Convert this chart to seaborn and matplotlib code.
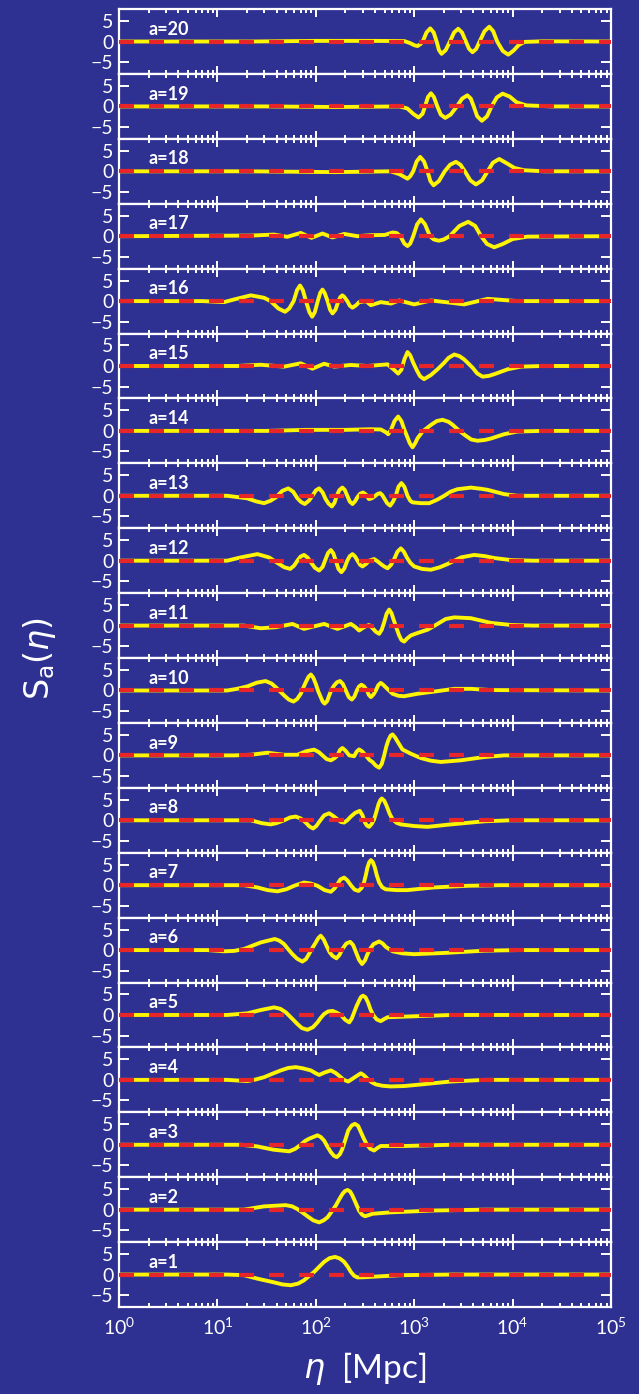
import matplotlib
matplotlib.use("Agg")
import matplotlib.pyplot as plt
import numpy as np
import pandas as pd
import seaborn as sns

# S_a(eta) curves: log10(eta) samples and values
LX_20 = [0, 1.34, 2.0, 2.6, 2.9, 2.96, 3.0, 3.034, 3.065, 3.09, 3.125, 3.163, 3.198, 3.228, 3.252, 3.278, 3.32, 3.363, 3.405, 3.447, 3.486, 3.525, 3.558, 3.593, 3.63, 3.665, 3.714, 3.763, 3.803, 3.843, 3.9, 3.956, 4.01, 4.06, 4.12, 4.3, 5]
S_20 = [0, 0, 0.15, 0.15, 0.1, -0.4, -0.9, -1.1, -0.6, 0.2, 2.2, 3.2, 2.2, 0, -2.1, -3.0, -2.1, 0, 2.2, 3.1, 2.2, 0, -1.8, -2.6, -1.8, 0, 2.5, 3.6, 2.5, 0, -2.3, -3.2, -2.2, -0.9, -0.1, 0.05, 0]

LX_19 = [0, 1.5, 2.2, 2.85, 2.93, 2.99, 3.044, 3.085, 3.11, 3.14, 3.17, 3.2, 3.235, 3.27, 3.315, 3.37, 3.434, 3.487, 3.54, 3.575, 3.605, 3.64, 3.688, 3.74, 3.786, 3.84, 3.898, 3.97, 4.04, 4.14, 4.4, 5]
S_19 = [0, 0, -0.15, 0, -0.5, -1.8, -2.7, -1.8, 0, 2.3, 3.2, 2.3, 0, -2.0, -2.8, -2.0, 0, 1.9, 2.7, 1.9, 0, -2.4, -3.5, -2.4, 0, 2.2, 3.1, 2.4, 1.0, 0.25, 0, 0]

LX_18 = [0, 1.3, 2.2, 2.76, 2.85, 2.932, 2.96, 2.99, 3.025, 3.061, 3.1, 3.135, 3.165, 3.197, 3.25, 3.31, 3.365, 3.424, 3.47, 3.515, 3.57, 3.627, 3.69, 3.746, 3.8, 3.864, 3.93, 4.02, 4.12, 4.32, 5]
S_18 = [0, 0, -0.2, 0, -0.7, -1.8, -1.2, 0, 2.4, 3.5, 2.4, 0, -2.4, -3.4, -2.4, 0, 1.6, 2.3, 1.6, 0, -2.2, -3.2, -2.2, 0, 2.1, 3.0, 2.1, 0.8, 0.25, 0, 0]

LX_17 = [0, 1.34, 1.576, 1.71, 1.847, 1.956, 2.068, 2.17, 2.288, 2.424, 2.56, 2.7, 2.78, 2.82, 2.86, 2.9, 2.932, 2.96, 2.99, 3.03, 3.068, 3.11, 3.16, 3.2, 3.25, 3.3, 3.36, 3.46, 3.549, 3.62, 3.68, 3.74, 3.813, 3.9, 4.0, 4.15, 5]
S_17 = [0, 0.15, 0.4, -0.15, 0.8, -0.4, 0.65, -0.3, 0.55, 0, 0.25, 0.3, 0.9, 0.8, 0, -1.8, -2.4, -1.8, 0, 2.9, 4.1, 2.9, 0, -0.8, -1.1, -0.8, 0, 2.5, 3.5, 2.5, 0, -1.9, -2.7, -1.9, -0.7, -0.1, 0]

LX_16 = [0, 0.85, 1.068, 1.17, 1.34, 1.475, 1.54, 1.62, 1.688, 1.73, 1.775, 1.81, 1.84, 1.868, 1.9, 1.935, 1.963, 1.99, 2.02, 2.045, 2.068, 2.09, 2.12, 2.145, 2.17, 2.2, 2.23, 2.25, 2.27, 2.29, 2.32, 2.345, 2.373, 2.41, 2.44, 2.51, 2.56, 2.66, 2.763, 2.847, 3.0, 3.17, 3.373, 3.508, 3.746, 3.915, 4.05, 5]
S_16 = [0, 0, -0.25, 0.4, 1.4, 0.8, 0, -1.8, -2.6, -1.8, 0, 2.7, 3.8, 2.7, 0, -2.7, -3.8, -2.7, 0, 2.0, 2.8, 2.0, 0, -2.1, -3.0, -2.1, 0, 1.0, 1.4, 1.0, 0, -1.1, -1.6, -1.0, -0.25, 0, -1.0, -0.25, -0.6, 0.15, -0.8, 0.15, -0.4, -0.8, 0.55, 0.25, 0, 0]

LX_15 = [0, 1.2, 1.44, 1.678, 1.847, 1.966, 2.085, 2.186, 2.356, 2.525, 2.729, 2.79, 2.837, 2.87, 2.9, 2.932, 2.96, 2.99, 3.03, 3.06, 3.1, 3.17, 3.237, 3.305, 3.35, 3.407, 3.46, 3.508, 3.593, 3.64, 3.695, 3.76, 3.813, 3.95, 4.085, 4.3, 5]
S_15 = [0, 0, 0.3, -0.15, 0.65, -0.65, 0.55, -0.15, 0.25, 0, 0.4, -0.8, -1.85, -0.9, 1.6, 3.4, 2.6, 0.8, -1.2, -2.5, -3.2, -2.2, -0.8, 0.8, 2.0, 2.8, 2.4, 1.6, -0.4, -1.8, -2.6, -2.4, -2.0, -0.8, -0.15, 0, 0]

LX_14 = [0, 1.5, 1.9, 2.3, 2.56, 2.66, 2.71, 2.736, 2.765, 2.8, 2.837, 2.87, 2.9, 2.932, 2.955, 2.983, 3.01, 3.034, 3.085, 3.17, 3.23, 3.288, 3.35, 3.39, 3.45, 3.508, 3.58, 3.644, 3.72, 3.78, 3.915, 4.05, 4.3, 5]
S_14 = [0, 0, 0.25, 0.25, 0.4, 0.35, -0.3, -0.8, 0.3, 2.4, 3.5, 2.4, 0.3, -1.6, -3.0, -4.0, -3.0, -1.8, -0.15, 1.45, 2.4, 2.7, 2.2, 1.5, 0.2, -0.9, -2.1, -2.4, -2.2, -1.85, -0.8, -0.15, 0, 0]

LX_13 = [0, 1.1, 1.3, 1.4, 1.475, 1.54, 1.593, 1.66, 1.72, 1.77, 1.813, 1.85, 1.888, 1.93, 1.966, 2.0, 2.034, 2.07, 2.10, 2.13, 2.163, 2.19, 2.213, 2.24, 2.27, 2.295, 2.32, 2.345, 2.373, 2.4, 2.424, 2.45, 2.48, 2.51, 2.54, 2.57, 2.60, 2.625, 2.654, 2.675, 2.695, 2.725, 2.756, 2.785, 2.813, 2.84, 2.87, 2.9, 2.932, 2.96, 2.983, 3.07, 3.153, 3.23, 3.305, 3.37, 3.44, 3.576, 3.68, 3.746, 3.915, 4.05, 5]
S_13 = [0, 0, -0.6, -1.4, -1.8, -1.2, -0.4, 1.2, 1.8, 1.0, -0.6, -1.5, -2.0, -1.2, 0, 1.3, 1.8, 0.8, -0.8, -1.9, -2.6, -1.7, 0, 1.4, 2.0, 1.4, 0, -1.4, -2.0, -1.3, -0.3, 0.5, 0.8, 0.3, -0.8, -0.6, -0.1, 0.4, 0.65, 0.2, -0.6, -1.8, -2.4, -1.4, 0, 2.2, 3.1, 2.2, 0, -1.2, -1.6, -1.8, -1.8, -1.0, 0, 1.0, 1.6, 2.0, 1.7, 1.45, 0.4, 0, 0]

LX_12 = [0, 1.1, 1.237, 1.407, 1.525, 1.627, 1.68, 1.74, 1.78, 1.813, 1.845, 1.88, 1.915, 1.95, 1.99, 2.034, 2.07, 2.10, 2.125, 2.153, 2.178, 2.203, 2.23, 2.26, 2.29, 2.32, 2.345, 2.373, 2.4, 2.424, 2.45, 2.475, 2.51, 2.542, 2.593, 2.63, 2.66, 2.695, 2.73, 2.765, 2.797, 2.83, 2.864, 2.895, 2.925, 2.96, 3.0, 3.08, 3.17, 3.26, 3.34, 3.475, 3.61, 3.72, 3.813, 3.983, 4.2, 5]
S_12 = [0, 0, 0.8, 1.6, 0.8, -0.8, -1.6, -2.0, -1.2, 0, 1.0, 1.4, 0.8, -0.4, -1.7, -2.4, -1.5, 0.4, 1.9, 2.6, 1.8, 0, -2.0, -2.8, -1.9, 0, 1.1, 1.6, 1.0, 0, -1.0, -1.4, -0.8, 0, 0.4, -0.2, -0.8, -1.4, -1.85, -1.0, 0.4, 2.2, 3.0, 2.2, 0.8, -0.5, -1.4, -2.0, -2.2, -1.6, -0.8, 0.8, 1.4, 1.1, 0.65, 0.15, 0, 0]

LX_11 = [0, 1.27, 1.44, 1.593, 1.763, 1.88, 1.98, 2.085, 2.22, 2.29, 2.356, 2.4, 2.44, 2.49, 2.54, 2.576, 2.61, 2.644, 2.67, 2.695, 2.72, 2.746, 2.77, 2.79, 2.82, 2.847, 2.87, 2.898, 2.93, 2.966, 3.034, 3.136, 3.237, 3.32, 3.407, 3.576, 3.78, 3.983, 4.2, 5]
S_11 = [0, 0, -0.65, -0.4, 0.4, -0.8, -0.2, 0.4, -0.8, -0.2, 0.4, -0.3, -1.2, -0.4, 0.15, -0.6, -1.5, -2.0, -1.0, 0.8, 2.9, 3.9, 3.0, 1.5, -0.6, -2.4, -3.5, -3.9, -3.1, -2.4, -1.8, -1.0, 0.4, 1.6, 2.0, 1.8, 0.65, 0.15, 0, 0]

LX_10 = [0, 1.1, 1.2, 1.305, 1.4, 1.49, 1.55, 1.593, 1.678, 1.725, 1.773, 1.81, 1.847, 1.87, 1.898, 1.925, 1.95, 1.975, 2.0, 2.025, 2.05, 2.07, 2.09, 2.115, 2.136, 2.16, 2.186, 2.215, 2.247, 2.275, 2.305, 2.335, 2.366, 2.392, 2.417, 2.44, 2.464, 2.49, 2.52, 2.54, 2.56, 2.585, 2.61, 2.635, 2.66, 2.685, 2.71, 2.78, 2.84, 2.898, 3.034, 3.237, 3.407, 3.576, 3.78, 5]
S_10 = [0, 0, 0.4, 1.0, 1.9, 2.3, 1.7, 0.8, -1.2, -2.2, -2.7, -2.1, -0.8, 0.5, 2.0, 3.3, 3.9, 3.1, 1.6, -0.2, -1.6, -2.7, -3.2, -2.6, -1.2, 0.2, 1.2, 2.0, 2.3, 1.6, 0, -1.6, -2.2, -1.5, 0, 1.0, 1.4, 1.0, 0, -1.1, -1.6, -1.0, 0, 1.3, 1.85, 1.4, 0.8, -0.8, -1.3, -1.4, -0.8, -0.15, 0.4, 0.4, 0.1, 0]

LX_9 = [0, 1.17, 1.34, 1.508, 1.678, 1.813, 1.9, 1.983, 2.03, 2.068, 2.11, 2.153, 2.19, 2.22, 2.245, 2.27, 2.3, 2.34, 2.39, 2.415, 2.44, 2.47, 2.508, 2.545, 2.576, 2.61, 2.644, 2.67, 2.695, 2.716, 2.736, 2.76, 2.78, 2.805, 2.83, 2.88, 2.966, 3.068, 3.17, 3.27, 3.475, 3.712, 3.915, 5]
S_9 = [0, 0, 0.15, 0.65, 0.15, 0.15, 1.0, 1.4, 0.8, 0, -0.9, -1.2, -0.7, 0, 1.3, 1.8, 1.2, 0, -0.2, 0.9, 1.45, 1.0, 0, -1.1, -1.6, -2.5, -3.0, -2.1, 0, 2.1, 3.6, 4.8, 5.1, 4.4, 3.4, 1.45, 0.4, -0.65, -1.3, -1.6, -1.2, -0.4, 0, 0]

LX_8 = [0, 1.34, 1.45, 1.542, 1.6, 1.678, 1.74, 1.797, 1.85, 1.898, 1.935, 1.973, 2.005, 2.034, 2.085, 2.136, 2.18, 2.22, 2.255, 2.288, 2.32, 2.356, 2.4, 2.447, 2.475, 2.5, 2.52, 2.542, 2.568, 2.593, 2.615, 2.637, 2.655, 2.67, 2.695, 2.72, 2.75, 2.78, 2.82, 2.864, 3.0, 3.136, 3.373, 3.712, 3.983, 5]
S_8 = [0, 0, -0.7, -1.0, -0.7, 0, 0.7, 0.9, 0.4, -0.55, -1.5, -2.0, -1.4, -0.4, 1.2, 1.7, 1.0, 0.25, -0.4, -0.55, 0, 0.9, 1.8, 2.3, 1.2, -0.55, -1.3, -1.6, -0.9, 0.25, 2.0, 3.9, 4.9, 5.3, 4.8, 3.5, 1.6, 0.25, -0.6, -1.0, -1.4, -1.6, -1.0, -0.25, 0, 0]

LX_7 = [0, 1.27, 1.407, 1.51, 1.61, 1.7, 1.78, 1.88, 1.95, 2.017, 2.09, 2.153, 2.19, 2.22, 2.25, 2.288, 2.32, 2.356, 2.395, 2.434, 2.465, 2.49, 2.51, 2.525, 2.543, 2.56, 2.58, 2.60, 2.62, 2.644, 2.675, 2.71, 2.82, 2.932, 3.2, 3.54, 3.88, 5]
S_7 = [0, 0, -0.55, -1.2, -1.5, -1.0, -0.15, 0.65, 0.4, -0.15, -1.2, -1.6, -0.8, 0.25, 1.4, 1.85, 1.2, 0, -1.1, -1.4, -0.7, 0.65, 2.6, 4.3, 5.6, 6.1, 5.6, 4.3, 2.4, 0.65, -0.5, -1.0, -1.2, -1.2, -0.55, -0.15, 0, 0]

LX_6 = [0, 0.9, 1.068, 1.17, 1.27, 1.36, 1.44, 1.583, 1.63, 1.678, 1.72, 1.763, 1.81, 1.864, 1.9, 1.93, 1.965, 2.0, 2.025, 2.05, 2.08, 2.11, 2.14, 2.17, 2.21, 2.24, 2.27, 2.31, 2.35, 2.38, 2.41, 2.44, 2.47, 2.5, 2.525, 2.555, 2.587, 2.644, 2.68, 2.71, 2.78, 2.88, 3.0, 3.305, 3.712, 4.05, 5]
S_6 = [0, 0, -0.3, -0.2, 0.25, 1.1, 1.85, 2.7, 2.3, 1.45, 0.2, -1.0, -2.1, -2.8, -2.2, -1.0, 0.5, 1.85, 2.9, 3.5, 2.6, 1.0, -0.5, -1.4, -2.0, -1.2, 0.25, 1.6, 2.0, 1.2, -0.6, -2.4, -3.4, -2.5, -1.0, 0.4, 1.45, 2.1, 1.6, 0.8, -0.3, -0.8, -1.0, -0.7, -0.15, 0, 0]

LX_5 = [0, 1.1, 1.305, 1.44, 1.576, 1.64, 1.695, 1.76, 1.813, 1.86, 1.915, 1.97, 2.017, 2.05, 2.085, 2.125, 2.17, 2.21, 2.254, 2.3, 2.34, 2.365, 2.39, 2.415, 2.44, 2.46, 2.48, 2.505, 2.53, 2.555, 2.583, 2.62, 2.66, 2.695, 2.73, 2.898, 3.373, 5]
S_5 = [0, 0, 0.4, 1.2, 1.85, 1.5, 0.65, -0.9, -2.2, -3.2, -3.6, -3.0, -1.8, -0.7, 0.25, 0.85, 1.0, 0.6, 0, -1.2, -1.8, -0.9, 0.65, 2.2, 3.5, 4.4, 4.7, 4.3, 3.1, 1.4, 0, -1.1, -1.5, -1.0, -0.55, -0.4, 0, 0]

LX_4 = [0, 1.1, 1.305, 1.39, 1.475, 1.56, 1.644, 1.72, 1.797, 1.87, 1.95, 2.0, 2.034, 2.09, 2.153, 2.2, 2.237, 2.285, 2.33, 2.4, 2.458, 2.49, 2.525, 2.57, 2.61, 2.68, 2.763, 2.9, 3.034, 3.2, 3.373, 3.712, 5]
S_4 = [0, 0, -0.3, 0.1, 0.65, 1.5, 2.3, 2.9, 3.1, 2.8, 2.3, 1.6, 1.2, 1.8, 2.3, 1.7, 1.0, 0.0, -0.4, 0.7, 1.6, 1.1, 0.25, -0.6, -1.1, -1.45, -1.6, -1.5, -1.2, -0.8, -0.4, 0, 0]

LX_3 = [0, 1.237, 1.407, 1.57, 1.73, 1.79, 1.847, 1.89, 1.93, 2.017, 2.05, 2.085, 2.12, 2.153, 2.185, 2.213, 2.245, 2.27, 2.3, 2.33, 2.365, 2.397, 2.43, 2.458, 2.49, 2.52, 2.555, 2.593, 2.625, 2.66, 2.898, 3.373, 5]
S_3 = [0, 0, -0.4, -1.2, -1.6, -1.0, 0, 0.9, 1.45, 2.3, 1.9, 1.0, -0.5, -1.8, -2.7, -3.0, -2.3, -1.0, 1.2, 3.5, 4.7, 5.1, 4.6, 3.1, 1.4, 0, -1.0, -1.4, -0.8, -0.3, -0.3, 0, 0]

LX_2 = [0, 1.27, 1.37, 1.475, 1.695, 1.76, 1.813, 1.865, 1.915, 1.975, 2.034, 2.08, 2.12, 2.16, 2.203, 2.24, 2.27, 2.295, 2.322, 2.35, 2.373, 2.41, 2.44, 2.47, 2.5, 2.54, 2.576, 2.763, 3.2, 3.712, 5]
S_2 = [0, 0, 0.4, 0.8, 1.1, 0.8, 0.15, -0.7, -1.6, -2.6, -3.1, -2.6, -1.85, -0.5, 1.0, 2.6, 3.8, 4.5, 4.8, 4.4, 3.4, 1.4, -0.25, -1.2, -1.6, -1.3, -1.0, -0.65, -0.2, 0, 0]

LX_1 = [0, 1.1, 1.27, 1.407, 1.576, 1.66, 1.746, 1.82, 1.88, 1.93, 1.983, 2.035, 2.085, 2.14, 2.197, 2.245, 2.288, 2.325, 2.356, 2.39, 2.424, 2.49, 2.56, 2.864, 3.373, 5]
S_1 = [0, 0, -0.15, -1.0, -1.9, -2.4, -2.6, -2.2, -1.4, -0.4, 0.65, 1.9, 3.1, 4.0, 4.3, 3.9, 3.1, 1.9, 0.65, -0.3, -0.7, -0.65, -0.55, -0.15, 0, 0]

PANELS = [
    (20, LX_20, S_20), (19, LX_19, S_19), (18, LX_18, S_18), (17, LX_17, S_17),
    (16, LX_16, S_16), (15, LX_15, S_15), (14, LX_14, S_14), (13, LX_13, S_13),
    (12, LX_12, S_12), (11, LX_11, S_11), (10, LX_10, S_10), (9, LX_9, S_9),
    (8, LX_8, S_8), (7, LX_7, S_7), (6, LX_6, S_6), (5, LX_5, S_5),
    (4, LX_4, S_4), (3, LX_3, S_3), (2, LX_2, S_2), (1, LX_1, S_1),
]

BG = "#2E3192"
YELLOW = "#FFF500"
RED = "#E8262A"

frames = [pd.DataFrame({"a": a, "eta": 10.0 ** np.asarray(lx), "S": s})
          for a, lx, s in PANELS]
df = pd.concat(frames, ignore_index=True)

sns.set_theme(style="ticks")
plt.rcParams["font.family"] = ["Lato", "DejaVu Sans"]

fig, axes = plt.subplots(len(PANELS), 1, sharex=True, figsize=(6.39, 13.94), dpi=100)
fig.patch.set_facecolor(BG)
fig.subplots_adjust(left=0.1862, right=0.9562, top=0.9935, bottom=0.0624, hspace=0)

for ax, (a, _, _) in zip(axes, PANELS):
    ax.set_facecolor(BG)
    sns.lineplot(data=df[df["a"] == a], x="eta", y="S", color=YELLOW, lw=2.8,
                 estimator=None, sort=False, ax=ax, zorder=2,
                 solid_joinstyle="round", solid_capstyle="round")
    ax.axhline(0, color=RED, lw=3.0, ls=(0, (3.6, 3.6)), zorder=3)
    ax.set_xscale("log")
    ax.set_xlim(1, 1e5)
    ax.set_ylim(-7.9, 7.9)
    ax.set_yticks([-5, 0, 5])
    ax.set_xlabel("")
    ax.set_ylabel("")
    for sp in ax.spines.values():
        sp.set_color("white")
        sp.set_linewidth(1.6)
    ax.tick_params(which="both", direction="in", colors="white", top=True,
                   right=True, width=1.4, labelsize=14)
    ax.tick_params(axis="x", which="major", length=5.5, pad=7)
    ax.tick_params(axis="x", which="minor", length=3)
    ax.tick_params(axis="y", which="major", length=7, pad=4)
    ax.text(0.06, 0.69, f"a={a}", transform=ax.transAxes, color="white",
            fontsize=13, fontweight="bold", va="center")

fig.text(0.062, 0.528, r"$\mathrm{S_a}(\eta)$", rotation=90, color="white",
         fontsize=24, ha="center", va="center")
fig.text(0.571, 0.018, r"$\eta$  [Mpc]", color="white", fontsize=24,
         ha="center", va="center")

fig.savefig("out.png", dpi=100, facecolor=BG)
